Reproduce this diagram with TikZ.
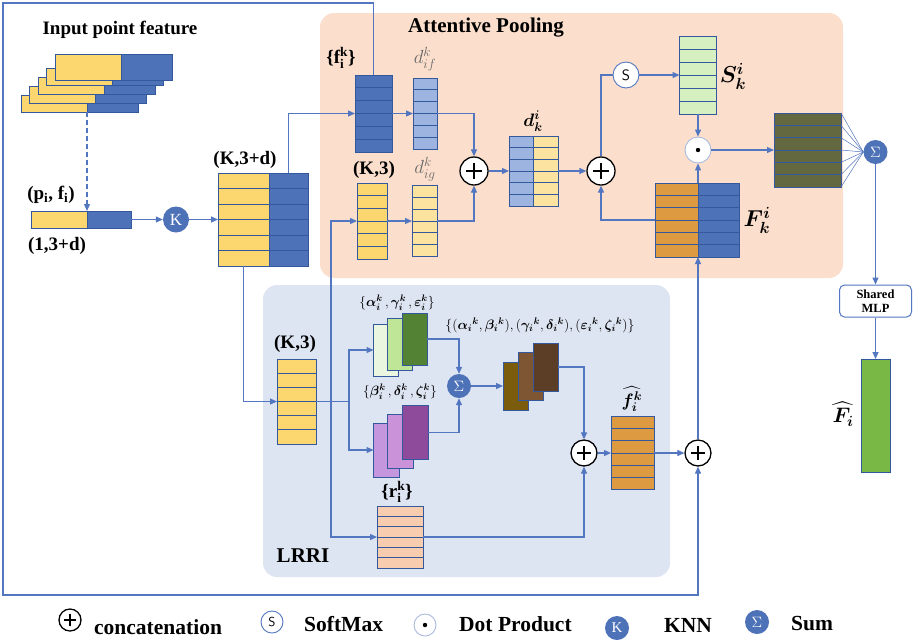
\RequirePackage{fix-cm}
\documentclass[tikz,border=0pt]{standalone}
\usepackage{fontspec}
\setmainfont{Liberation Serif}
\usepackage{amsmath}
\usepackage{bm}
\usepackage{xcolor}
\usepackage{tikz}
\usetikzlibrary{positioning, calc, arrows.meta}

\definecolor{lineblue}{RGB}{82,118,192}
\definecolor{edgeblue}{RGB}{52,88,156}
\definecolor{featblue}{RGB}{78,114,184}
\definecolor{featyel}{RGB}{252,215,112}
\definecolor{lightblue}{RGB}{157,180,224}
\definecolor{lightyel}{RGB}{252,228,160}
\definecolor{softgreen}{RGB}{214,240,194}
\definecolor{poololive}{RGB}{99,104,64}
\definecolor{featorange}{RGB}{222,154,64}
\definecolor{outgreen}{RGB}{122,184,70}
\definecolor{featpeach}{RGB}{248,204,174}
\definecolor{greenpale}{RGB}{234,246,224}
\definecolor{greenmid}{RGB}{190,230,150}
\definecolor{greendark}{RGB}{84,130,53}
\definecolor{purplepale}{RGB}{196,150,222}
\definecolor{purplemid}{RGB}{202,146,216}
\definecolor{purpledark}{RGB}{142,74,155}
\definecolor{brownpale}{RGB}{122,92,12}
\definecolor{brownmid}{RGB}{126,86,52}
\definecolor{browndark}{RGB}{92,62,38}
\definecolor{poolpanel}{RGB}{251,223,204}
\definecolor{lrripanel}{RGB}{222,229,242}
\definecolor{labelgray}{RGB}{105,105,105}

\newcommand{\gk}[1]{\bm{#1}_{\bm i}{}^{\bm k}}

\begin{document}
\begin{tikzpicture}[x=1pt, y=-1pt, >={Triangle[length=7pt, width=6pt]},
  link/.style={->, draw=lineblue, line width=1.2pt},
  wire/.style={draw=lineblue, line width=1.2pt},
  cell/.style={draw=edgeblue, line width=0.9pt, fill=#1, inner sep=0pt, outer sep=0pt},
  rows/.style={path picture={
    \foreach \rr in {1,...,5}
      \draw[edgeblue, line width=0.9pt]
        ($(path picture bounding box.north west)!\rr/6!(path picture bounding box.south west)$) --
        ($(path picture bounding box.north east)!\rr/6!(path picture bounding box.south east)$);}},
  feat/.style={cell=#1, rows},
  sheet/.style={cell=#1, minimum width=25pt, minimum height=52pt},
  concat/.style={circle, draw=black, line width=1.3pt, fill=white, minimum size=#1, inner sep=0pt,
    path picture={\draw[black, line width=1.5pt]
      ([xshift=-0.27*#1]path picture bounding box.center) -- ([xshift=0.27*#1]path picture bounding box.center)
      ([yshift=-0.27*#1]path picture bounding box.center) -- ([yshift=0.27*#1]path picture bounding box.center);}},
  concat/.default=26pt,
  sumop/.style={circle, fill=featblue, text=white, minimum size=#1, inner sep=0pt, font=\fontsize{15}{15}\selectfont},
  sumop/.default=24pt,
  softop/.style={circle, draw=lineblue, line width=0.9pt, fill=white, minimum size=#1, inner sep=0pt,
    font=\sffamily\fontsize{15}{15}\selectfont},
  softop/.default=26pt,
  dotop/.style={circle, draw=lineblue!50, line width=0.9pt, fill=white, minimum size=#1, inner sep=0pt,
    path picture={\fill[black] (path picture bounding box.center) circle (2.2pt);}},
  dotop/.default=26pt,
  knnop/.style={circle, fill=featblue, text=white, minimum size=#1, inner sep=0pt, font=\fontsize{17}{17}\selectfont},
  knnop/.default=26pt,
  mlpbox/.style={draw=lineblue, line width=1pt, fill=white, rounded corners=5pt, minimum width=72pt,
    minimum height=32pt, inner sep=1pt, align=center, font=\bfseries\fontsize{12.5}{14}\selectfont},
  lbl/.style={font=\bfseries\fontsize{19}{21}\selectfont, inner sep=0pt},
  mathlbl/.style={font=\fontsize{#1}{#1}\selectfont, inner sep=0pt},
  keytxt/.style={font=\bfseries\fontsize{21.5}{23}\selectfont, anchor=west, inner sep=0pt}]

% Fondo y paneles
\fill[white] (0,0) rectangle (923,641);
\useasboundingbox (0,0) rectangle (923,641);
\fill[poolpanel, rounded corners=14pt] (320,13) rectangle (843,278);
\fill[lrripanel, rounded corners=14pt] (263,285) rectangle (670,577);
\node[font=\bfseries\fontsize{21}{23}\selectfont] (apTitle) at (486,28) {Attentive Pooling};
\node[font=\bfseries\fontsize{21}{23}\selectfont] (lrriTitle) at (303,556) {LRRI};

% Entrada
\node[lbl] (inTitle) at (120,30) {Input point feature};
\foreach \k in {4,...,1}{
  \node[cell=featyel, minimum width=66pt, minimum height=16.5pt] (inY\k) at ({88-8.5*\k},{67.75+9*\k}) {};
  \node[cell=featblue, minimum width=51pt, minimum height=16.5pt, right=0pt of inY\k] (inB\k) {};
}
\node[cell=featyel, minimum width=66pt, minimum height=26pt] (inY0) at (88,67) {};
\node[cell=featblue, minimum width=51pt, minimum height=26pt, right=0pt of inY0] (inB0) {};

\node[cell=featyel, minimum width=56pt, minimum height=17pt] (pfY) at (59,219.5) {};
\node[cell=featblue, minimum width=44pt, minimum height=17pt, right=0pt of pfY] (pfB) {};
\node[lbl] (pfLbl) at (51,195) {(p\textsubscript{i}, f\textsubscript{i})};
\node[lbl] (pfSize) at (57,246) {(1,3+d)};
\node[knnop] (knn) at (176,219.5) {K};

\node[feat=featyel, minimum width=51pt, minimum height=93pt] (bigY) at (243.5,219.5) {};
\node[feat=featblue, minimum width=39pt, minimum height=93pt, right=0pt of bigY] (bigB) {};
\node[lbl] (bigLbl) at (245,160) {(K,3+d)};

% Attentive Pooling
\node[feat=featblue, minimum width=37pt, minimum height=77pt] (fik) at (373.5,113.5) {};
\node[lbl] (fikLbl) at (341,58) {\{f$^{\textbf{k}}_{\textbf{i}}$\}};
\node[feat=lightblue, minimum width=24pt, minimum height=71pt] (dif) at (425,113.5) {};
\node[mathlbl=19, text=labelgray] (difLbl) at (425,59) {$d_{if}^{k}$};
\node[feat=featyel, minimum width=30pt, minimum height=76pt] (ayel) at (372,221) {};
\node[lbl] (ayelLbl) at (374,170) {(K,3)};
\node[feat=lightyel, minimum width=25pt, minimum height=71pt] (dig) at (424.5,221) {};
\node[mathlbl=19, text=labelgray] (digLbl) at (425,169) {$d_{ig}^{k}$};
\node[concat=28pt] (cat1) at (474,171) {};
\node[feat=lightblue, minimum width=24.5pt, minimum height=70pt] (dkL) at (521.25,171) {};
\node[feat=lightyel, minimum width=24.5pt, minimum height=70pt, right=0pt of dkL] (dkR) {};
\node[mathlbl=18] (dkLbl) at (533,121) {$\bm{d}_{\bm k}^{\bm i}$};
\node[concat=28pt] (cat2) at (601,171) {};
\node[softop] (smax) at (626,75) {S};
\node[feat=softgreen, minimum width=37pt, minimum height=78pt] (sbox) at (698,75) {};
\node[mathlbl=23] (sLbl) at (733,76) {$\bm{S}_{\bm k}^{\bm i}$};
\node[dotop] (dprod) at (698,150) {};
\node[feat=featorange, minimum width=43pt, minimum height=74pt] (FL) at (676.5,220) {};
\node[feat=featblue, minimum width=41pt, minimum height=74pt, right=0pt of FL] (FR) {};
\node[mathlbl=23] (FLbl) at (757,220) {$\bm{F}_{\bm k}^{\bm i}$};
\node[feat=poololive, minimum width=67pt, minimum height=74pt] (pooled) at (807.5,150) {};
\node[sumop] (sum1) at (875.5,152) {$\Sigma$};
\node[mlpbox] (mlp) at (875.5,301) {Shared\\MLP};
\node[cell=outgreen, minimum width=29pt, minimum height=113pt] (Fout) at (875.5,415.5) {};
\node[mathlbl=21] (FoutLbl) at (843,414) {$\widehat{\bm{F}_{\bm i}}$};

% LRRI
\node[feat=featyel, minimum width=39pt, minimum height=85pt] (lyel) at (296.5,401.5) {};
\node[lbl] (lyelLbl) at (295,344) {(K,3)};
\foreach \k/\c in {3/greenpale, 2/greenmid, 1/greendark}
  \node[sheet=\c] (gs\k) at ({414.5-14.25*(\k-1)},{339+5.5*(\k-1)}) {};
\foreach \k/\c in {3/purplepale, 2/purplemid, 1/purpledark}
  \node[sheet=\c, minimum width=26pt, minimum height=54pt] (ps\k) at ({415-14.25*(\k-1)},{432.5+8.75*(\k-1)}) {};
\foreach \k/\c in {3/brownpale, 2/brownmid, 1/browndark}
  \node[sheet=\c, minimum height=48pt] (bs\k) at ({545.5-15*(\k-1)},{367+9.5*(\k-1)}) {};
\node[mathlbl=13.5] (gsLbl) at (397,303) {$\{\bm{\alpha}_{\bm i}^{\bm k}\,,\bm{\gamma}_{\bm i}^{\bm k}\,,\bm{\varepsilon}_{\bm i}^{\bm k}\}$};
\node[mathlbl=13.5] (psLbl) at (400,392) {$\{\bm{\beta}_{\bm i}^{\bm k}\,,\bm{\delta}_{\bm i}^{\bm k}\,,\bm{\zeta}_{\bm i}^{\bm k}\}$};
\node[mathlbl=13.7] (bsLbl) at (540,325) {$\{(\gk{\alpha},\gk{\beta}),(\gk{\gamma},\gk{\delta}),(\gk{\varepsilon},\gk{\zeta})\}$};
\node[sumop] (sum2) at (459,386) {$\Sigma$};
\node[concat] (cat3) at (584,453) {};
\node[feat=featorange, minimum width=43pt, minimum height=73pt] (fhat) at (632.5,453) {};
\node[mathlbl=18] (fhatLbl) at (632,399) {$\widehat{\bm{f}_{\bm i}^{\bm k}}$};
\node[concat] (cat4) at (698,453) {};
\node[feat=featpeach, minimum width=46pt, minimum height=62pt] (rbox) at (400,537) {};
\node[lbl] (rLbl) at (397,492) {\{r$^{\textbf{k}}_{\textbf{i}}$\}};

\coordinate (fork) at (349,401.5);
\coordinate (tap) at (331,401.5);
\coordinate (cornerTL) at (3,3);
\coordinate (cornerBL) at (3,595);

% Conexiones
\draw[link, dash pattern=on 5pt off 3pt] (inY4.south east) -- (pfY.north east);
\draw[link] (pfB) -- (knn);
\draw[link] (knn) -- (bigY);
\draw[link] (bigB.north) |- (fik.west);
\draw[link] (bigY.south) |- (lyel.west);
\draw[link] (fik.north) |- (cornerTL) -- (cornerBL) -| (cat4.south);
\draw[link] (lyel.east) -- (fork) |- (gs3.west);
\draw[link] (fork) |- (ps3.west);
\draw[link] (tap) |- (ayel.west);
\draw[link] (tap) |- (rbox.west);
\draw[link] (fik) -- (dif);
\draw[link] (ayel) -- (dig);
\draw[link] (dif.east) -| (cat1.north);
\draw[link] (dig.east) -| (cat1.south);
\draw[link] (cat1) -- (dkL);
\draw[link] (dkR) -- (cat2);
\draw[wire] (cat2.north) |- (smax.west);
\draw[link] (smax) -- (sbox);
\draw[link] (sbox) -- (dprod);
\draw[link] (FL.west) -| (cat2.south);
\draw[link] (dprod) -- (pooled);
\foreach \k in {0,...,6}
  \draw[wire, line width=0.5pt] ($(pooled.north east)!\k/6!(pooled.south east)$) -- (sum1.west);
\draw[link] (sum1) -- (mlp);
\draw[link] (mlp) -- (Fout);
\draw[link] (cat4.north) -- (FL.south east);
\draw[link] (FL.north east) -- (dprod.south);
\draw[link] (gs1.east) -| (sum2.north);
\draw[link] (ps1.east) -| (sum2.south);
\draw[link] (sum2) -- (bs3);
\draw[link] (bs1.east) -| (cat3.north);
\draw[link] (rbox.east) -| (cat3.south);
\draw[link] (cat3) -- (fhat);
\draw[link] (fhat) -- (cat4);

% Leyenda
\node[concat=22pt] (keyCat) at (70,620) {};
\node[keytxt] (keyCatTxt) at (94,627) {concatenation};
\node[softop=22pt, font=\sffamily\fontsize{13}{13}\selectfont] (keySoft) at (272,622) {S};
\node[keytxt] (keySoftTxt) at (304,624) {SoftMax};
\node[dotop=22pt] (keyDot) at (425,625) {};
\node[keytxt] (keyDotTxt) at (459,624) {Dot Product};
\node[knnop=24pt, font=\fontsize{15}{15}\selectfont] (keyKnn) at (617,628) {K};
\node[keytxt] (keyKnnTxt) at (664,625) {KNN};
\node[sumop=24pt] (keySum) at (757,622) {$\Sigma$};
\node[keytxt] (keySumTxt) at (791,623) {Sum};
\end{tikzpicture}
\end{document}
